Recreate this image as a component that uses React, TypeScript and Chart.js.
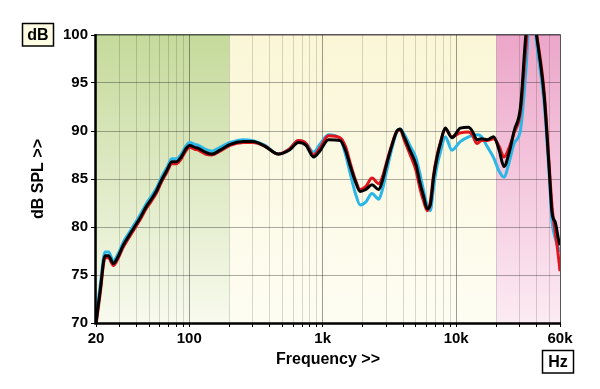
import React, { useEffect, useRef } from 'react';
import { Chart, registerables } from 'chart.js';
Chart.register(...registerables);

const FREQS = [20, 21.5, 23.4, 24.8, 27, 29, 32, 35, 38, 43, 48, 52, 57, 62, 68, 74, 80, 87, 95, 101, 110, 117, 132, 148, 170, 202, 254, 300, 370, 464, 560, 658, 750, 854, 950, 1104, 1350, 1480, 1612, 1750, 1910, 2100, 2340, 2630, 2800, 3020, 3300, 3600, 3800, 4100, 4500, 5000, 5360, 5700, 6080, 6400, 6780, 7200, 7620, 8280, 9300, 10740, 12380, 13200, 14340, 15500, 17040, 19100, 21000, 22800, 25000, 27180, 30340, 33200, 36500, 40200, 45700, 49500, 52400, 55300, 58300, 60000];

const BLACK = [70, 73.4, 77.0, 77.0, 76.2, 76.8, 78.1, 79.0, 79.8, 81.0, 82.2, 82.9, 83.8, 84.9, 85.9, 86.8, 86.8, 87.3, 88.2, 88.5, 88.3, 88.2, 87.8, 87.6, 88.0, 88.6, 88.9, 88.9, 88.4, 87.6, 88.0, 88.8, 88.5, 87.3, 87.9, 89.1, 89.0, 88.0, 86.3, 84.8, 83.7, 83.9, 84.4, 83.9, 84.8, 86.6, 88.5, 90.0, 90.2, 89.3, 88.0, 86.5, 84.6, 83.2, 81.9, 82.3, 85.2, 87.3, 88.7, 90.3, 89.3, 90.3, 90.4, 90.0, 89.1, 89.2, 89.1, 89.4, 88.0, 86.3, 87.8, 90.0, 92.5, 99.8, 104, 99.8, 93.6, 86.6, 81.4, 80.5, 78.8, 78.1];

const RED = [69.8, 73.1, 76.8, 76.8, 76.0, 76.6, 77.9, 78.8, 79.6, 80.8, 82.0, 82.7, 83.6, 84.7, 85.7, 86.6, 86.6, 87.1, 88.0, 88.3, 88.1, 88.0, 87.6, 87.5, 87.9, 88.5, 88.8, 88.8, 88.4, 87.6, 88.1, 89.0, 88.7, 87.5, 88.2, 89.5, 89.3, 88.4, 86.6, 85.0, 83.9, 84.2, 85.1, 84.5, 85.2, 86.8, 88.6, 90.0, 90.1, 89.0, 87.6, 85.9, 84.0, 82.7, 81.7, 82.6, 85.5, 87.5, 88.8, 90.2, 89.4, 89.8, 89.9, 89.6, 88.7, 89.0, 89.0, 89.2, 88.4, 87.3, 88.3, 89.8, 92.0, 98.5, 104, 100.0, 94.0, 87.0, 82.0, 79.5, 77.0, 75.4];

const BLUE = [70.3, 73.9, 77.4, 77.4, 76.5, 77.1, 78.4, 79.3, 80.1, 81.3, 82.5, 83.2, 84.1, 85.2, 86.2, 87.1, 87.1, 87.6, 88.5, 88.8, 88.6, 88.5, 88.1, 87.9, 88.3, 88.8, 89.1, 89.0, 88.5, 87.6, 88.1, 89.0, 88.7, 87.8, 88.6, 89.6, 89.2, 87.6, 85.5, 83.6, 82.3, 82.6, 83.5, 82.9, 83.9, 85.9, 88.2, 89.9, 90.2, 89.6, 88.5, 87.2, 85.5, 83.8, 82.2, 81.7, 84.2, 86.4, 87.8, 89.4, 88.0, 88.9, 89.4, 89.5, 89.6, 89.4, 88.4, 87.2, 85.8, 85.2, 86.8, 88.7, 90.1, 96.0, 104, 99.0, 92.8, 86.0, 80.5, 78.8, 77.8, 77.4];

const X_TICKS = [20, 30, 40, 50, 60, 70, 80, 90, 100, 200, 300, 400, 500, 600, 700, 800, 900, 1000, 2000, 3000, 4000, 5000, 6000, 7000, 8000, 9000, 10000, 20000, 30000, 40000, 50000, 60000];
const X_MAJOR = [100, 1000, 10000];
const X_LABELS: Record<string, string> = { '20': '20', '100': '100', '1000': '1k', '10000': '10k', '60000': '60k' };

const BANDS = [
  { from: 20, to: 200, top: '#c5da9b', bottom: '#f8faee' },
  { from: 200, to: 20000, top: '#faf6d6', bottom: '#fefdf3' },
  { from: 20000, to: 60000, top: '#eca6c9', bottom: '#fcebf3' },
];

const FONT = '"Liberation Sans", Arial, sans-serif';

const decoPlugin = {
  id: 'deco',
  beforeDraw(chart: any) {
    const { ctx, chartArea: a, scales } = chart;
    ctx.save();
    ctx.fillStyle = '#ffffff';
    ctx.fillRect(0, 0, chart.width, chart.height);
    for (const b of BANDS) {
      const x0 = scales.x.getPixelForValue(b.from);
      const x1 = scales.x.getPixelForValue(b.to);
      const g = ctx.createLinearGradient(0, a.top, 0, a.bottom);
      g.addColorStop(0, b.top);
      g.addColorStop(1, b.bottom);
      ctx.fillStyle = g;
      ctx.fillRect(x0, a.top, x1 - x0, a.bottom - a.top);
    }
    ctx.restore();
  },
  afterDraw(chart: any) {
    const { ctx, chartArea: a } = chart;
    ctx.save();
    // thin top/right frame
    ctx.strokeStyle = '#555';
    ctx.lineWidth = 1;
    ctx.beginPath();
    ctx.moveTo(a.left, a.top - 0.5);
    ctx.lineTo(a.right + 0.5, a.top - 0.5);
    ctx.lineTo(a.right + 0.5, a.bottom);
    ctx.stroke();
    // thick left/bottom axes
    ctx.strokeStyle = '#000';
    ctx.lineWidth = 2.5;
    ctx.beginPath();
    ctx.moveTo(a.left - 0.5, a.top - 1);
    ctx.lineTo(a.left - 0.5, a.bottom + 0.5);
    ctx.lineTo(a.right + 1, a.bottom + 0.5);
    ctx.stroke();

    // boxes
    const box = (x: number, y: number, w: number, h: number, fill: string, text: string) => {
      ctx.fillStyle = fill;
      ctx.fillRect(x, y, w, h);
      ctx.strokeStyle = '#000';
      ctx.lineWidth = 1.5;
      ctx.strokeRect(x, y, w, h);
      ctx.fillStyle = '#000';
      ctx.font = `bold 16px ${FONT}`;
      ctx.textAlign = 'center';
      ctx.textBaseline = 'middle';
      ctx.fillText(text, x + w / 2, y + h / 2 + 1);
    };
    box(22.5, 23.5, 31, 22.5, '#fdfbe2', 'dB');
    box(542.5, 350.5, 31, 22.5, '#ffffff', 'Hz');

    // axis titles
    ctx.fillStyle = '#000';
    ctx.font = `bold 16px ${FONT}`;
    ctx.textAlign = 'center';
    ctx.textBaseline = 'alphabetic';
    ctx.fillText('Frequency >>', (a.left + a.right) / 2, 364);
    ctx.translate(43, (a.top + a.bottom) / 2);
    ctx.rotate(-Math.PI / 2);
    ctx.fillText('dB SPL >>', 0, 0);
    ctx.restore();
  },
};

export default function App() {
  const ref = useRef<HTMLCanvasElement | null>(null);
  useEffect(() => {
    document.body.style.margin = '0';
    const mk = (vals: number[]) => FREQS.map((f, i) => ({ x: f, y: vals[i] }));
    const ds = (label: string, vals: number[], color: string) => ({
      label,
      data: mk(vals),
      borderColor: color,
      backgroundColor: color,
      borderWidth: 3,
      pointRadius: 0,
      fill: false,
      cubicInterpolationMode: 'monotone' as const,
      clip: 0,
    });
    const chart = new Chart(ref.current as HTMLCanvasElement, {
      type: 'line',
      data: {
        datasets: [
          ds('Black', BLACK, '#000000'),
          ds('Red', RED, '#e3141b'),
          ds('Blue', BLUE, '#2ab6e6'),
        ],
      },
      plugins: [decoPlugin],
      options: {
        responsive: false,
        devicePixelRatio: 1,
        animation: false,
        layout: { padding: { top: 35, right: 40, bottom: 0, left: 0 } },
        plugins: { legend: { display: false }, tooltip: { enabled: false } },
        scales: {
          x: {
            type: 'logarithmic',
            min: 20,
            max: 60000,
            afterBuildTicks: (s: any) => {
              s.ticks = X_TICKS.map((v) => ({ value: v }));
            },
            afterFit: (s: any) => {
              s.height = 66;
            },
            ticks: {
              autoSkip: false,
              maxRotation: 0,
              minRotation: 0,
              padding: 3,
              color: '#000',
              font: { family: FONT, size: 15, weight: 'bold' },
              callback: (v: any) => X_LABELS[String(v)] ?? '',
            },
            grid: {
              color: (c: any) => (c.tick && X_MAJOR.includes(c.tick.value) ? 'rgba(0,0,0,0.38)' : 'rgba(0,0,0,0.15)'),
              tickColor: '#000',
              tickLength: 4,
            },
            border: { display: false },
          },
          y: {
            min: 70,
            max: 100,
            afterFit: (s: any) => {
              s.width = 96;
            },
            ticks: {
              stepSize: 5,
              padding: 3,
              color: '#000',
              font: { family: FONT, size: 15, weight: 'bold' },
            },
            grid: { color: 'rgba(0,0,0,0.32)', tickColor: '#000', tickLength: 5 },
            border: { display: false },
          },
        },
      },
    } as any);
    return () => chart.destroy();
  }, []);
  return <canvas ref={ref} width={600} height={389} style={{ display: 'block' }} />;
}
